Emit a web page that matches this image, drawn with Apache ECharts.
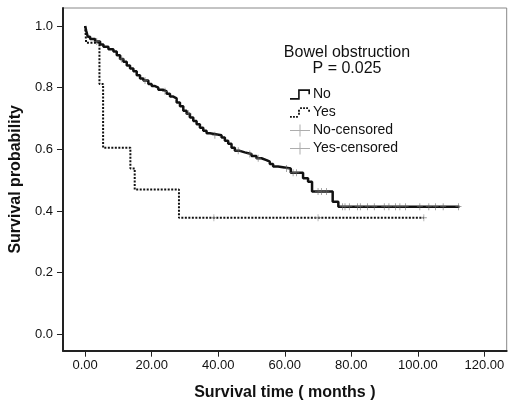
<!DOCTYPE html>
<html>
<head>
<meta charset="utf-8">
<script src="https://cdn.jsdelivr.net/npm/echarts@6/dist/echarts.min.js"></script>
<style>
    html, body { margin: 0; padding: 0; background: #fff; }
    #chart { width: 509px; height: 408px; }
</style>
</head>
<body>
<div id="chart"></div>
<script>
    // Kaplan-Meier steps (time in months, survival after the step)
    const noTime = [0, 0.3, 0.8, 1.5, 3.0, 4.5, 5.5, 7.0, 8.5, 9.5, 10.5, 11.5, 12.5, 13.5, 14.5, 15.5, 16.5, 17.5,
        19.0, 20.0, 21.0, 22.0, 23.5, 24.5, 25.5, 26.5, 27.5, 28.5, 29.5, 30.5, 31.5, 32.5, 33.5, 34.5, 35.5, 36.5,
        37.5, 41.0, 42.0, 43.0, 44.0, 45.0, 46.5, 48.0, 50.0, 51.5, 53.0, 54.5, 55.5, 56.5, 58.0, 61.8, 65.5, 67.0,
        68.2, 74.4, 76.1, 112.5];
    const noSurv = [1.0, 0.985, 0.965, 0.958, 0.950, 0.940, 0.933, 0.925, 0.917, 0.905, 0.893, 0.884, 0.872, 0.862,
        0.853, 0.840, 0.830, 0.823, 0.812, 0.805, 0.800, 0.793, 0.788, 0.780, 0.771, 0.765, 0.752, 0.740, 0.725, 0.715,
        0.703, 0.692, 0.681, 0.670, 0.660, 0.652, 0.646, 0.638, 0.628, 0.618, 0.605, 0.595, 0.590, 0.585, 0.578, 0.571,
        0.565, 0.560, 0.552, 0.544, 0.538, 0.524, 0.506, 0.495, 0.463, 0.430, 0.414, 0.414];
    const yesTime = [0, 0.3, 4.3, 5.4, 13.6, 14.9, 28.2, 101.8];
    const yesSurv = [1.0, 0.946, 0.812, 0.605, 0.538, 0.470, 0.378, 0.378];

    // censored observations (times only, the mark sits on the curve)
    const noCensTime = [3.5, 11, 18, 24, 31, 39, 46, 49.5, 52, 60.5, 62.5, 63.5, 70, 71, 72.5, 77.4, 78.1, 79.4,
        81.9, 82.7, 84.9, 86.9, 89.9, 91.3, 93.3, 94.6, 96.3, 100.6, 103.3, 105.3, 107.6, 112.2];
    const yesCensTime = [38.7, 70, 101.8];

    const legendTitle = 'Bowel obstruction';
    const pValue = 'P = 0.025';

    const FONT = 'Liberation Sans, Arial, sans-serif';

    function survAt(times, surv, t) {
        let v = surv[0];
        for (let i = 0; i < times.length; i++) {
            if (times[i] <= t) v = surv[i];
        }
        return v;
    }
    const pairs = (xs, ys) => xs.map((x, i) => [x, ys[i]]);
    const cens = (ct, times, surv) => ct.map(t => [t, survAt(times, surv, t)]);

    // legend icons, drawn in a 20x12 box
    const stepIcon = 'path://M0,8.5H7.5V0.5H18.5V5H17V2H9V10H0Z';
    let dots = [[0, 9], [3, 9], [6, 9], [8, 6], [8, 3], [10, 0.5], [13, 0.5], [16, 0.5], [18, 3]];
    const dotIcon = 'path://' + dots.map(d => `M${d[0]},${d[1]}h1.8v1.8h-1.8Z`).join('');
    const crossIcon = 'path://M0,5.5H20V6.5H0Z M9.5,0H10.5V12H9.5Z';
    const censSymbol = 'path://M4.4,0H5.6V10H4.4Z M0,4.4H10V5.6H0Z';

    const chart = echarts.init(document.getElementById('chart'));
    chart.setOption({
        animation: false,
        textStyle: { fontFamily: FONT },
        title: {
            text: legendTitle,
            subtext: pValue,
            left: 347,
            top: 45,
            textAlign: 'center',
            padding: 0,
            itemGap: 0,
            textStyle: { fontSize: 16, fontWeight: 'normal', color: '#111', fontFamily: FONT },
            subtextStyle: { fontSize: 16, color: '#111', fontFamily: FONT }
        },
        legend: {
            orient: 'vertical',
            left: 290,
            top: 87.5,
            itemWidth: 20,
            itemHeight: 12,
            itemGap: 4,
            padding: 0,
            textStyle: { fontSize: 14, color: '#111', fontFamily: FONT, padding: [0, 0, 0, -2] },
            itemStyle: { borderWidth: 0 },
            data: [
                { name: 'No', icon: stepIcon },
                { name: 'Yes', icon: dotIcon },
                { name: 'No-censored', icon: crossIcon, itemStyle: { color: '#999' } },
                { name: 'Yes-censored', icon: crossIcon, itemStyle: { color: '#999' } }
            ]
        },
        grid: {
            left: 60, top: 8, right: 2.3, bottom: 57.3,
            show: true, borderColor: '#888', borderWidth: 1
        },
        xAxis: {
            type: 'value',
            min: -6.66,
            max: 126.7,
            splitNumber: 7,
            minInterval: 20,
            maxInterval: 20,
            name: 'Survival time ( months )',
            nameLocation: 'middle',
            nameGap: 34,
            nameTextStyle: { fontSize: 16, fontWeight: 'bold', color: '#111', fontFamily: FONT },
            axisLine: { show: true, onZero: false, lineStyle: { color: '#222', width: 2 } },
            axisTick: { show: true, length: 6, lineStyle: { color: '#222', width: 1 } },
            axisLabel: {
                showMinLabel: false, showMaxLabel: false,
                margin: 8, fontSize: 13, color: '#111',
                formatter: v => v.toFixed(2)
            },
            splitLine: { show: false }
        },
        yAxis: {
            type: 'value',
            min: -0.0532,
            max: 1.0584,
            splitNumber: 6,
            minInterval: 0.2,
            maxInterval: 0.2,
            name: 'Survival probability',
            nameLocation: 'middle',
            nameGap: 31,
            nameTextStyle: { fontSize: 16, fontWeight: 'bold', color: '#111', fontFamily: FONT },
            axisLine: { show: true, onZero: false, lineStyle: { color: '#222', width: 2 } },
            axisTick: { show: true, length: 6, lineStyle: { color: '#222', width: 1 } },
            axisLabel: {
                showMinLabel: false, showMaxLabel: false,
                margin: 10, fontSize: 13, color: '#111',
                formatter: v => v.toFixed(1)
            },
            splitLine: { show: false }
        },
        series: [
            {
                name: 'No',
                type: 'line',
                step: 'end',
                symbol: 'none',
                z: 3,
                color: '#111',
                lineStyle: { color: '#111', width: 2.5 },
                data: pairs(noTime, noSurv)
            },
            {
                name: 'Yes',
                type: 'line',
                step: 'end',
                symbol: 'none',
                z: 3,
                color: '#111',
                lineStyle: { color: '#111', width: 2, type: [2, 1.5] },
                data: pairs(yesTime, yesSurv)
            },
            {
                name: 'No-censored',
                type: 'scatter',
                symbol: censSymbol,
                symbolSize: [6, 7],
                z: 4,
                itemStyle: { color: '#666' },
                data: cens(noCensTime, noTime, noSurv)
            },
            {
                name: 'Yes-censored',
                type: 'scatter',
                symbol: censSymbol,
                symbolSize: [6, 7],
                z: 4,
                itemStyle: { color: '#888' },
                data: cens(yesCensTime, yesTime, yesSurv)
            }
        ]
    });
</script>
</body>
</html>
